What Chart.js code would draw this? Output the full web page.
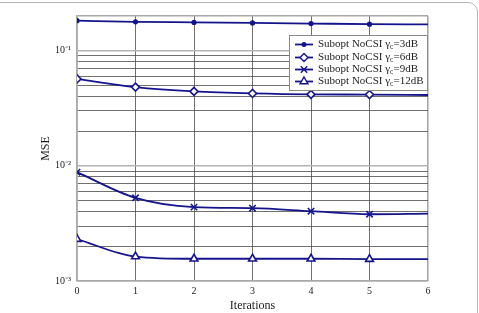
<!DOCTYPE html>
<html>
<head>
<meta charset="utf-8">
<script src="https://cdn.jsdelivr.net/npm/chart.js@4/dist/chart.umd.min.js"></script>
<style>
  html, body { margin:0; padding:0; background:#fff; overflow:hidden; }
  #wrap { position:relative; width:479px; height:313px; overflow:hidden; }
  #frame { position:absolute; left:-20px; top:2px; width:498px; height:400px;
           border:1.5px solid #b8b8b8; border-radius:10px; box-sizing:border-box; }
  canvas { position:absolute; left:0; top:0; }
</style>
</head>
<body>
<div id="wrap">
  <div id="frame"></div>
  <canvas id="c" width="479" height="313"></canvas>
</div>
<script>
const iterations = [0, 1, 2, 3, 4, 5, 6];
const seriesNames = ['3dB', '6dB', '9dB', '12dB'];
const mse3dB  = [0.182, 0.178, 0.176, 0.174, 0.172, 0.170, 0.169];
const mse6dB  = [0.0568, 0.0483, 0.0443, 0.0425, 0.0417, 0.0416, 0.0412];
const mse9dB  = [0.00881, 0.00527, 0.00438, 0.00429, 0.00404, 0.00380, 0.00385];
const mse12dB = [0.00231, 0.00163, 0.00156, 0.00156, 0.00156, 0.00155, 0.00155];
const yTickValues = [0.001,0.002,0.003,0.004,0.005,0.006,0.007,0.008,0.009,
                     0.01,0.02,0.03,0.04,0.05,0.06,0.07,0.08,0.09,0.1,0.2];
const yTickLabels = { '0.001': '10⁻³', '0.01': '10⁻²', '0.1': '10⁻¹' };

const NAVY = '#14148c';
const FONT = "'Liberation Serif', 'Times New Roman', serif";

function mk(data, style, r) {
  return {
    data: iterations.map((x, i) => ({ x: x, y: data[i] })),
    borderColor: NAVY,
    backgroundColor: '#ffffff',
    borderWidth: 1.8,
    pointStyle: style,
    pointRadius: iterations.map((x, i) => i === iterations.length - 1 ? 0 : r),
    pointBorderColor: NAVY,
    pointBackgroundColor: style === 'circle' ? NAVY : '#ffffff',
    pointBorderWidth: 1.6,
    tension: 0.4,
    cubicInterpolationMode: 'monotone',
    fill: false
  };
}

const datasets = [
  mk(mse3dB, 'circle', 1.8),
  mk(mse6dB, 'rectRot', 4),
  mk(mse9dB, 'crossRot', 4.5),
  mk(mse12dB, 'triangle', 4.5)
];

const legendPlugin = {
  id: 'innerLegend',
  afterDraw(chart) {
    const ctx = chart.ctx;
    const x0 = 289, y0 = 35, w = 139, h = 56;
    ctx.save();
    ctx.fillStyle = '#fff';
    ctx.fillRect(x0, y0, w, h);
    ctx.strokeStyle = '#8a8a8a';
    ctx.lineWidth = 1;
    ctx.strokeRect(x0 + 0.5, y0 + 0.5, w - 1, h - 1);
    const rows = [44, 57, 69, 81];
    chart.data.datasets.forEach((ds, i) => {
      const y = rows[i] + 0.5;
      ctx.strokeStyle = NAVY;
      ctx.lineWidth = 1.8;
      ctx.beginPath(); ctx.moveTo(295, y); ctx.lineTo(313, y); ctx.stroke();
      ctx.fillStyle = ds.pointBackgroundColor;
      ctx.strokeStyle = NAVY;
      ctx.lineWidth = 1.4;
      Chart.helpers.drawPoint(ctx, { pointStyle: ds.pointStyle, radius: ds.pointRadius[0], borderWidth: 1.4, rotation: 0 }, 304, y);
      ctx.fillStyle = '#222';
      ctx.textBaseline = 'middle';
      ctx.font = '11px ' + FONT;
      let tx = 318;
      const a = 'Subopt NoCSI γ';
      ctx.fillText(a, tx, y); tx += ctx.measureText(a).width;
      ctx.font = '7.5px ' + FONT;
      ctx.fillText('c', tx, y + 3); tx += ctx.measureText('c').width;
      ctx.font = '11px ' + FONT;
      ctx.fillText('=' + seriesNames[i], tx, y);
    });
    ctx.restore();
  }
};

new Chart(document.getElementById('c'), {
  type: 'line',
  data: { datasets: datasets },
  options: {
    responsive: false,
    animation: false,
    devicePixelRatio: 1,
    layout: { padding: { left: 39, top: 16, right: 51, bottom: 0 } },
    plugins: { legend: { display: false }, tooltip: { enabled: false } },
    scales: {
      x: {
        type: 'linear', min: 0, max: 6,
        ticks: { stepSize: 1, color: '#222', font: { family: FONT, size: 10 }, padding: 4, maxRotation: 0 },
        grid: {
          drawTicks: false,
          color: (c) => (c.tick && (c.tick.value === 0 || c.tick.value === 6)) ? '#a8a8a8' : '#4a4a4a',
          lineWidth: (c) => (c.tick && (c.tick.value === 0 || c.tick.value === 6)) ? 1.6 : 0.8
        },
        border: { display: true, color: '#a8a8a8', width: 1.6 },
        title: { display: true, text: 'Iterations', color: '#222', font: { family: FONT, size: 12 }, padding: 0 },
        afterFit(s) { s.height = 32; }
      },
      y: {
        type: 'logarithmic', min: 0.001, max: 0.2,
        afterBuildTicks(s) { s.ticks = yTickValues.map(v => ({ value: v })); },
        ticks: {
          color: '#222', font: { family: FONT, size: 10 }, padding: 6, autoSkip: false,
          callback: (v) => yTickLabels[String(+v.toPrecision(3))] || ''
        },
        grid: {
          drawTicks: false,
          color: (c) => {
            const v = c.tick ? c.tick.value : 0;
            if (v === 0.2 || v === 0.001) return '#a8a8a8';
            if (v === 0.1 || v === 0.01) return '#b4b4b4';
            return '#4a4a4a';
          },
          lineWidth: (c) => {
            const v = c.tick ? c.tick.value : 0;
            if (v === 0.2 || v === 0.001 || v === 0.1 || v === 0.01) return 1.6;
            return 0.8;
          }
        },
        border: { display: true, color: '#a8a8a8', width: 1.6 },
        title: { display: true, text: 'MSE', color: '#222', font: { family: FONT, size: 12 }, padding: 0 },
        afterFit(s) { s.width = 38; }
      }
    }
  },
  plugins: [legendPlugin]
});
</script>
</body>
</html>
